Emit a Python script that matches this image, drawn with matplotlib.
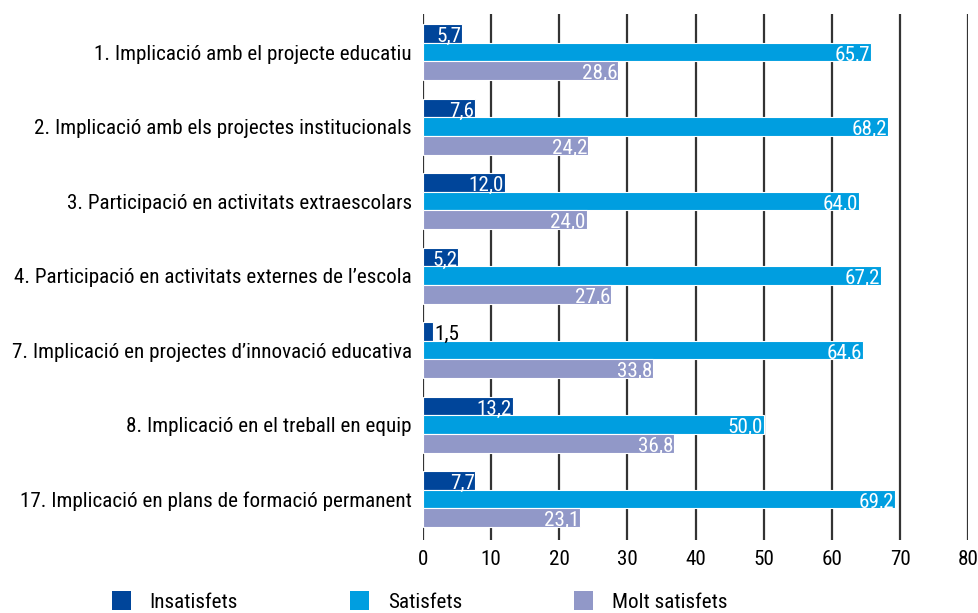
import matplotlib
matplotlib.use("Agg")
import matplotlib.pyplot as plt
from matplotlib.patches import Patch
import numpy as np

# data
categories = [
    "1. Implicació amb el projecte educatiu",
    "2. Implicació amb els projectes institucionals",
    "3. Participació en activitats extraescolars",
    "4. Participació en activitats externes de l\u2019escola",
    "7. Implicació en projectes d\u2019innovació educativa",
    "8. Implicació en el treball en equip",
    "17. Implicació en plans de formació permanent",
]
insatisfets = [5.7, 7.6, 12.0, 5.2, 1.5, 13.2, 7.7]
satisfets = [65.7, 68.2, 64.0, 67.2, 64.6, 50.0, 69.2]
molt_satisfets = [28.6, 24.2, 24.0, 27.6, 33.8, 36.8, 23.1]
series_names = ["Insatisfets", "Satisfets", "Molt satisfets"]
colors = ["#00459A", "#009EE0", "#9198C8"]
xticks = [0, 10, 20, 30, 40, 50, 60, 70, 80]

plt.rcParams['font.family'] = ['Roboto Condensed', 'Archivo Narrow', 'DejaVu Sans']
plt.rcParams['font.size'] = 15.2

fig = plt.figure(figsize=(9.79, 6.13), dpi=100)
ax = fig.add_axes([0.432, 0.119, 0.557, 0.858])

y = np.arange(len(categories))
h = 0.25
all_series = [insatisfets, satisfets, molt_satisfets]
for k, (vals, col) in enumerate(zip(all_series, colors)):
    pos = y + (k - 1) * h
    ax.barh(pos, vals, height=h, color=col, edgecolor="white", linewidth=0.8, zorder=3)
    for p, v in zip(pos, vals):
        txt = f"{v:.1f}".replace(".", ",")
        if v < 5:
            ax.text(v + 0.2, p + 0.04, txt, ha="left", va="center", color="black", zorder=4)
        else:
            ax.text(v - 0.1, p + 0.04, txt, ha="right", va="center", color="white", zorder=4)

ax.set_xlim(0, 80)
ax.set_ylim(6.55, -0.51)
ax.set_xticks(xticks)
ax.set_yticks(y)
ax.set_yticklabels(categories)
ax.grid(axis="x", color="#333333", linewidth=1.6, zorder=0)
for s in ax.spines.values():
    s.set_visible(False)
ax.tick_params(axis="y", length=0, pad=8)
ax.tick_params(axis="x", length=0, pad=7)

handles = [Patch(facecolor=c) for c in colors]
fig.legend(handles, series_names, loc="center left", bbox_to_anchor=(0.114, 0.019),
           ncol=3, frameon=False, handlelength=0.9, handleheight=1.05,
           handletextpad=0.9, columnspacing=5.3, borderpad=0, borderaxespad=0)

fig.savefig("out.png", dpi=100)
